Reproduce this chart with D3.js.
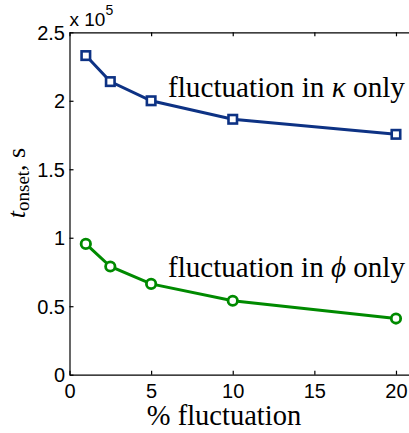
<!DOCTYPE html>
<html>
<head>
<meta charset="utf-8">
<script src="https://cdn.jsdelivr.net/npm/d3@7"></script>
<style>
  body { margin: 0; background: #fff; }
  svg { display: block; }
  .tick text { font-family: "Liberation Sans", Arial, sans-serif; font-size: 20px; fill: #000; }
  .domain, .tick line { stroke: #000; stroke-width: 1.2; }
  .serif { font-family: "Liberation Serif", "Times New Roman", "DejaVu Serif", serif; }
</style>
</head>
<body>
<script>
// ---- data ----
const fluctuation = [1, 2.5, 5, 10, 20];
const kappaOnly = [2.33, 2.14, 2.0, 1.865, 1.755];   // x 10^5 s
const phiOnly   = [0.955, 0.79, 0.663, 0.54, 0.41];  // x 10^5 s
const xTicks = [0, 5, 10, 15, 20];
const yTicks = [0, 0.5, 1, 1.5, 2, 2.5];
const yTickLabels = ["0", "0.5", "1", "1.5", "2", "2.5"];

const W = 409, H = 433;
const svg = d3.select("body").append("svg").attr("width", W).attr("height", H);

const x = d3.scaleLinear().domain([0, 21]).range([69.5, 412.3]);
const y = d3.scaleLinear().domain([0, 2.5]).range([374.7, 32.3]);

// axes
const gx = svg.append("g").attr("transform", `translate(0,${y(0)})`)
  .call(d3.axisBottom(x).tickValues(xTicks).tickSizeInner(-4).tickSizeOuter(0).tickPadding(9));
gx.selectAll(".tick text").attr("dy", "0.71em");

svg.append("g").attr("transform", `translate(0,${y(2.5)})`)
  .call(d3.axisTop(x).tickValues(xTicks).tickSizeInner(-4).tickSizeOuter(0).tickFormat(""));

const gy = svg.append("g").attr("transform", `translate(${x(0)},0)`)
  .call(d3.axisLeft(y).tickValues(yTicks).tickSizeInner(-4).tickSizeOuter(0).tickPadding(4.5)
    .tickFormat((d, i) => yTickLabels[i]));
gy.selectAll(".tick text").attr("dy", "0.36em");

// exponent label
const ex = svg.append("text").attr("x", x(0)).attr("y", 26)
  .style("font-family", "'Liberation Sans', Arial, sans-serif").style("font-size", "19px");
ex.append("tspan").text("x 10");
ex.append("tspan").attr("dy", -11).style("font-size", "14px").text("5");

// lines
const line = d3.line().x((d, i) => x(fluctuation[i])).y(d => y(d));
const blue = "#0d3284", green = "#008a00";

svg.append("path").datum(kappaOnly).attr("d", line)
  .attr("fill", "none").attr("stroke", blue).attr("stroke-width", 3);
svg.append("path").datum(phiOnly).attr("d", line)
  .attr("fill", "none").attr("stroke", green).attr("stroke-width", 3);

const sq = 8.5;
svg.selectAll(".sq").data(kappaOnly).enter().append("rect")
  .attr("x", (d, i) => x(fluctuation[i]) - sq / 2)
  .attr("y", d => y(d) - sq / 2)
  .attr("width", sq).attr("height", sq)
  .attr("fill", "#fff").attr("stroke", blue).attr("stroke-width", 2.6);

svg.selectAll(".ci").data(phiOnly).enter().append("circle")
  .attr("cx", (d, i) => x(fluctuation[i]))
  .attr("cy", d => y(d))
  .attr("r", 4.7)
  .attr("fill", "#fff").attr("stroke", green).attr("stroke-width", 2.8);

// annotations
function annot(yBase, sym) {
  const t = svg.append("text").attr("class", "serif").attr("x", 168).attr("y", yBase)
    .style("font-size", "26px");
  t.append("tspan").text("fluctuation in ");
  t.append("tspan").style("font-style", "italic").text(sym);
  t.append("tspan").text(" only");
  const w = t.node().getComputedTextLength();
  t.style("font-size", (26 * 237 / w) + "px");
}
annot(96.5, "κ");
annot(277, "ϕ");

// x label
svg.append("text").attr("class", "serif").attr("x", 224).attr("y", 425).attr("text-anchor", "middle")
  .style("font-size", "28.5px")
  .text("% fluctuation");

// y label
const yl = svg.append("text").attr("class", "serif").attr("transform", "translate(25,183) rotate(-90)")
  .attr("text-anchor", "middle")
  .style("font-size", "26px");
yl.append("tspan").style("font-style", "italic").text("t");
yl.append("tspan").attr("dy", 4).style("font-size", "19px").text("onset");
yl.append("tspan").attr("dy", -4).text(", s");
</script>
</body>
</html>
